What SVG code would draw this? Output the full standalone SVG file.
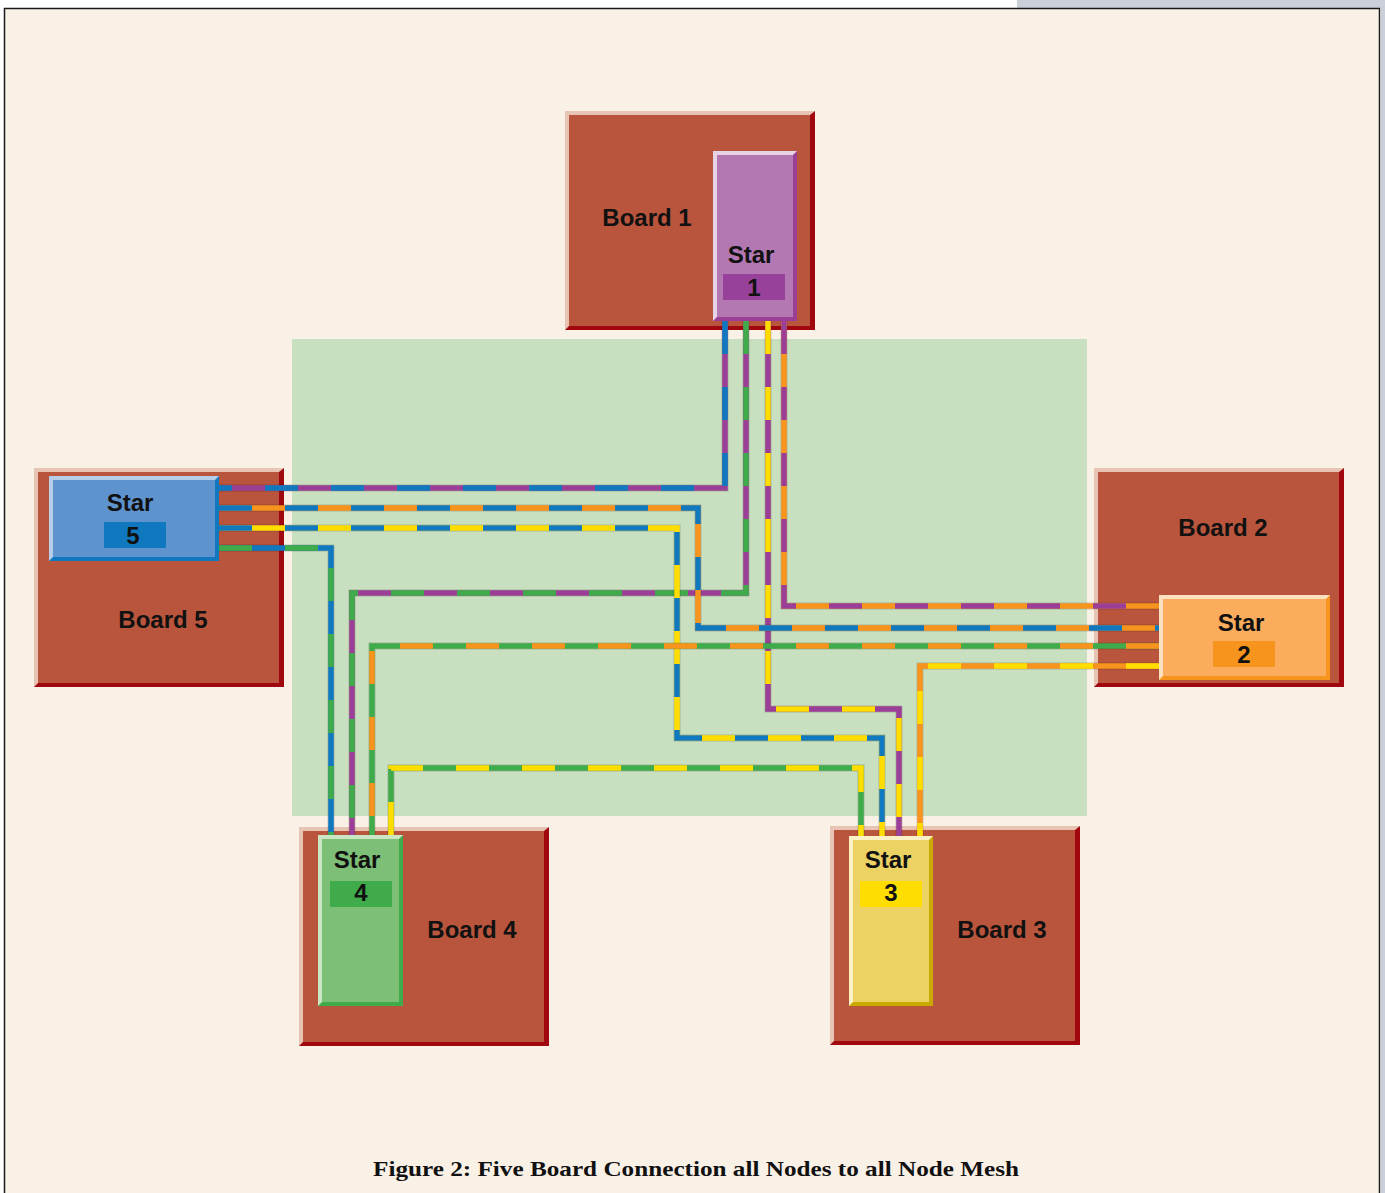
<svg xmlns="http://www.w3.org/2000/svg" xmlns:xlink="http://www.w3.org/1999/xlink" width="1385" height="1193" viewBox="0 0 1385 1193">
<style>
.lbl{font-family:"Liberation Sans",Arial,sans-serif;font-weight:bold;font-size:24px;fill:#111;text-anchor:middle}
.cap{font-family:"Liberation Serif","Times New Roman",serif;font-weight:bold;font-size:22px;fill:#111;text-anchor:middle}
.under{fill:none;stroke:#000;stroke-opacity:.18;stroke-width:7}
.base{fill:none;stroke-width:5.5}
.dash{fill:none;stroke-width:5.5;stroke-dasharray:33 33}
.blue{stroke:#1078be}.purple{stroke:#9b3f96}.green{stroke:#3fab4a}.yellow{stroke:#ffdd00}.orange{stroke:#f7941d}
</style>
<defs>
<g id="board">
<rect x="0" y="0" width="250" height="219" fill="#e8c4b4"/>
<polygon points="250,0 250,219 0,219 4,215 245,215 245,4" fill="#a1070f"/>
<rect x="4" y="4" width="241" height="211" fill="#b9553c"/>
</g>
</defs>
<rect x="0" y="0" width="1385" height="1193" fill="#ffffff"/>
<rect x="1017" y="0" width="368" height="8" fill="#cbcfd7"/>
<rect x="1381" y="0" width="4" height="1193" fill="#cbcfd7"/>
<rect x="4.5" y="8.5" width="1375" height="1190" fill="#f9f0e6" stroke="#1a1a1a" stroke-width="1.5"/>
<rect x="292" y="339" width="795" height="477" fill="#c8e0c0"/>

<g id="board1"><use xlink:href="#board" x="565" y="111"/><text class="lbl" x="647" y="226">Board 1</text></g>
<g id="board5"><use xlink:href="#board" x="34" y="468"/><text class="lbl" x="163" y="628">Board 5</text></g>
<g id="board2"><use xlink:href="#board" x="1094" y="468"/><text class="lbl" x="1223" y="536">Board 2</text></g>
<g id="board4"><use xlink:href="#board" x="299" y="827"/><text class="lbl" x="472" y="938">Board 4</text></g>
<g id="board3"><use xlink:href="#board" x="830" y="826"/><text class="lbl" x="1002" y="938">Board 3</text></g>

<g id="connectors">
<g><path class="under" d="M725,321 V488 H219"/><path class="base purple" d="M725,321 V488 H219"/><path class="dash blue" d="M725,321 V488 H219"/></g>
<g><path class="under" d="M746,321 V593 H352 V835"/><path class="base purple" d="M746,321 V593 H352 V835"/><path class="dash green" d="M746,321 V593 H352 V835"/></g>
<g><path class="under" d="M768,321 V709 H899 V836"/><path class="base purple" d="M768,321 V709 H899 V836"/><path class="dash yellow" d="M768,321 V709 H899 V836"/></g>
<g><path class="under" d="M784,321 V606 H1159"/><path class="base orange" d="M784,321 V606 H1159"/><path class="dash purple" d="M784,321 V606 H1159"/></g>
<g><path class="under" d="M219,508 H698 V628 H1159"/><path class="base orange" d="M219,508 H698 V628 H1159"/><path class="dash blue" d="M219,508 H698 V628 H1159"/></g>
<g><path class="under" d="M219,528 H677 V738 H882 V836"/><path class="base yellow" d="M219,528 H677 V738 H882 V836"/><path class="dash blue" d="M219,528 H677 V738 H882 V836"/></g>
<g><path class="under" d="M219,548 H331 V835"/><path class="base blue" d="M219,548 H331 V835"/><path class="dash green" d="M219,548 H331 V835"/></g>
<g><path class="under" d="M1159,646 H372 V835"/><path class="base green" d="M1159,646 H372 V835"/><path class="dash orange" d="M1159,646 H372 V835"/></g>
<g><path class="under" d="M1159,666 H920 V836"/><path class="base orange" d="M1159,666 H920 V836"/><path class="dash yellow" d="M1159,666 H920 V836"/></g>
<g><path class="under" d="M391,835 V768 H861 V836"/><path class="base green" d="M391,835 V768 H861 V836"/><path class="dash yellow" d="M391,835 V768 H861 V836"/></g>
</g>

<g id="star1">
<rect x="713" y="151" width="84" height="170" fill="#e6d3e6"/>
<polygon points="797,151 797,321 713,321 717,317 793,317 793,155" fill="#9b3f96"/>
<rect x="717" y="155" width="76" height="162" fill="#b378b1"/>
<rect x="723" y="274" width="62" height="26" fill="#98419a"/>
<text class="lbl" x="751" y="263">Star</text>
<text class="lbl" x="754" y="296">1</text>
</g>
<g id="star5">
<rect x="49" y="476" width="170" height="85" fill="#b5cde9"/>
<polygon points="219,476 219,561 49,561 53,557 215,557 215,480" fill="#1078be"/>
<rect x="53" y="480" width="162" height="77" fill="#5e93cd"/>
<rect x="104" y="522" width="62" height="26" fill="#1078be"/>
<text class="lbl" x="130" y="511">Star</text>
<text class="lbl" x="133" y="544">5</text>
</g>
<g id="star2">
<rect x="1159" y="595" width="171" height="85" fill="#fde0c0"/>
<polygon points="1330,595 1330,680 1159,680 1163,676 1326,676 1326,599" fill="#f7941d"/>
<rect x="1163" y="599" width="163" height="77" fill="#fbad5d"/>
<rect x="1213" y="641" width="62" height="26" fill="#f7941d"/>
<text class="lbl" x="1241" y="631">Star</text>
<text class="lbl" x="1244" y="663">2</text>
</g>
<g id="star4">
<rect x="318" y="835" width="85" height="171" fill="#cbe6c5"/>
<polygon points="403,835 403,1006 318,1006 322,1002 399,1002 399,839" fill="#3fab4a"/>
<rect x="322" y="839" width="77" height="163" fill="#7dbf77"/>
<rect x="330" y="881" width="62" height="26" fill="#3fab4a"/>
<text class="lbl" x="357" y="868">Star</text>
<text class="lbl" x="361" y="901">4</text>
</g>
<g id="star3">
<rect x="849" y="836" width="84" height="170" fill="#fbf1c4"/>
<polygon points="933,836 933,1006 849,1006 853,1002 929,1002 929,840" fill="#c9ab00"/>
<rect x="853" y="840" width="76" height="162" fill="#ecd263"/>
<rect x="860" y="881" width="62" height="26" fill="#ffdd00"/>
<text class="lbl" x="888" y="868">Star</text>
<text class="lbl" x="891" y="901">3</text>
</g>

<text class="cap" x="696" y="1176" textLength="646" lengthAdjust="spacingAndGlyphs">Figure 2: Five Board Connection all Nodes to all Node Mesh</text>
</svg>
